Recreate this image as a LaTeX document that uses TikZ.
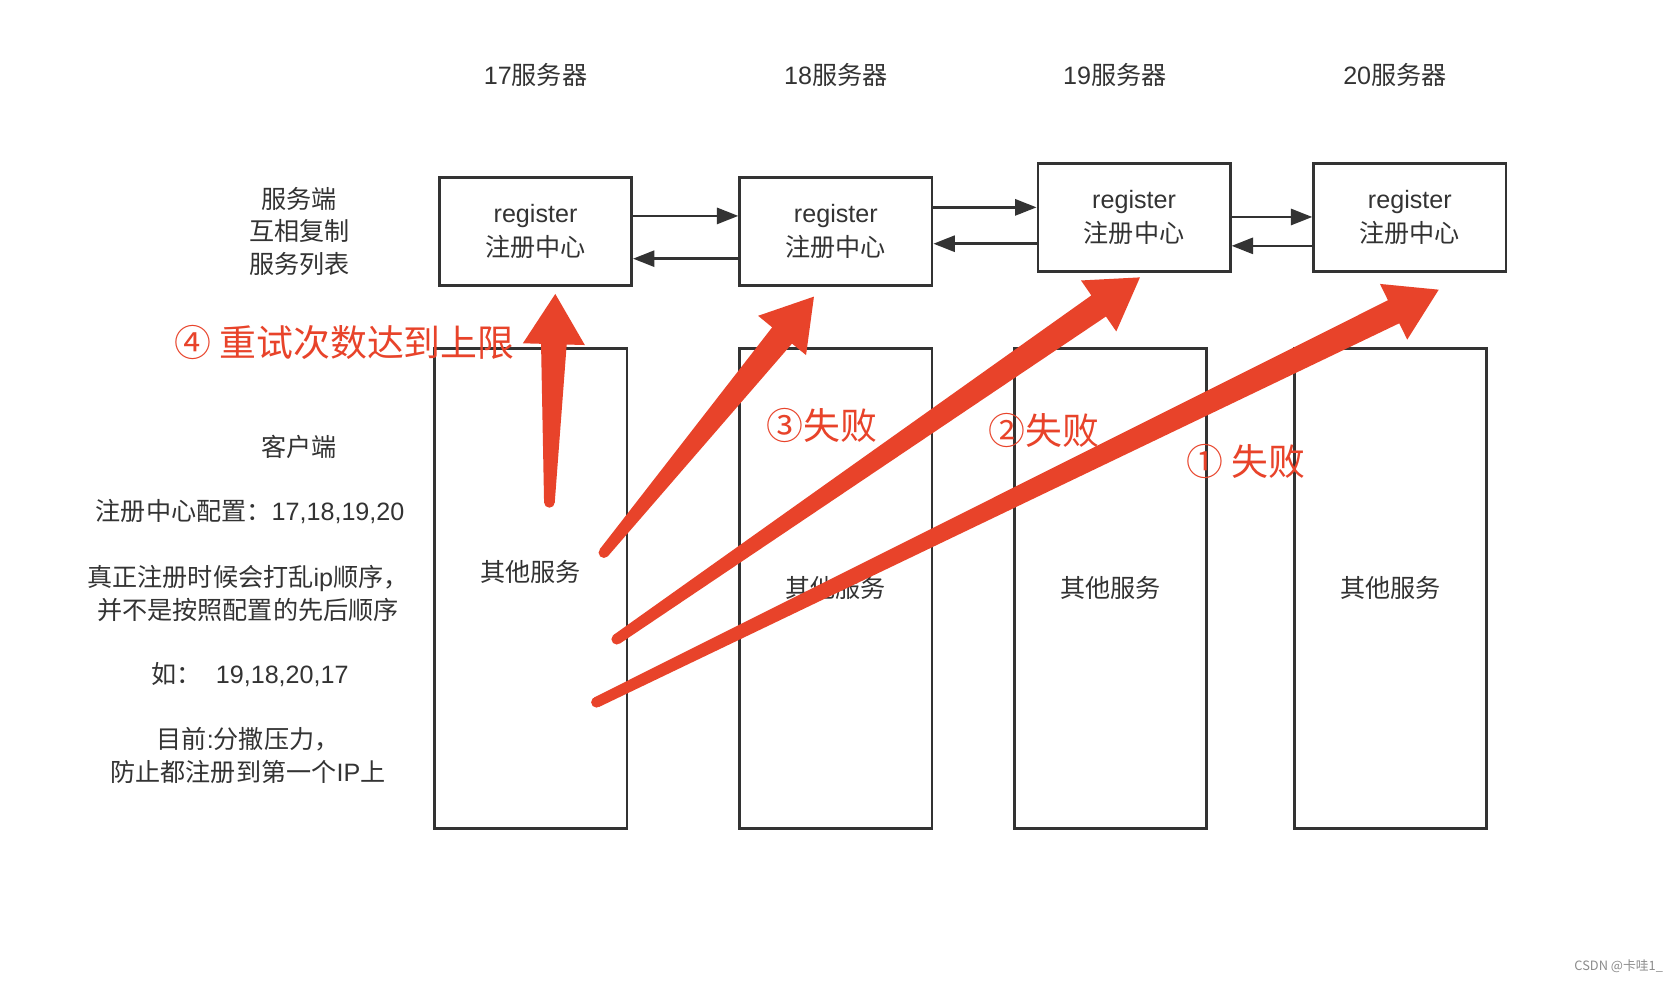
\documentclass[tikz,border=0pt]{standalone}
\usepackage{fontspec}
\setmainfont{Noto Sans CJK SC}
\newfontfamily\lat{Liberation Sans}
\usetikzlibrary{arrows.meta,calc}
\definecolor{ink}{HTML}{333333}
\definecolor{redA}{HTML}{E8432A}
\newcommand{\fatarrow}[6]{%
  \coordinate (#1b) at ($(#2)!#3!(#1)$);
  \fill[redA] ($(#1)!#6!90:(#2)$) -- ($(#1b)!#5!90:(#2)$) -- ($(#1b)!#4!90:(#2)$) -- (#2)
    -- ($(#1b)!#4!-90:(#2)$) -- ($(#1b)!#5!-90:(#2)$) -- ($(#1)!#6!-90:(#2)$) -- cycle;
  \fill[redA] (#1) circle (#6);
}
\newcommand{\latn}[1]{{\lat #1}}
\tikzset{
  txt/.style={text=ink, font=\fontsize{23.5}{30.5}\selectfont, align=center, inner sep=0pt},
  regbox/.style={draw=ink, line width=2.5pt, minimum width=180pt, minimum height=101pt, inner sep=0pt,
    text=ink, font=\fontsize{23.5}{31}\selectfont, align=center},
  colbox/.style={draw=ink, line width=2.5pt, minimum width=180pt, minimum height=449pt, inner sep=0pt,
    text=ink, font=\fontsize{23.5}{30}\selectfont, align=center},
  conn/.style={draw=ink, line width=2.5pt, -{Triangle[length=20pt,width=15pt]}},
  redtxt/.style={text=redA, font=\fontsize{34.5}{40}\selectfont, inner sep=0pt}
}
\begin{document}
\begin{tikzpicture}[x=1pt,y=-1pt]
\useasboundingbox (0,0) rectangle (1568,919);
\fill[white] (0,0) rectangle (1568,919);
% headers
\node[txt] (h17) at (501,70) {\latn{17}服务器};
\node[txt] (h18) at (782,70) {\latn{18}服务器};
\node[txt] (h19) at (1043,70) {\latn{19}服务器};
\node[txt] (h20) at (1305,70) {\latn{20}服务器};
% register boxes
\node[regbox] (b1) at (501,216.5) {\latn{register}\\注册中心};
\node[regbox] (b2) at (782,216.5) {\latn{register}\\注册中心};
\node[regbox] (b3) at (1061,203.5) {\latn{register}\\注册中心};
\node[regbox] (b4) at (1319,203.5) {\latn{register}\\注册中心};
% replication arrows
\draw[conn] ([yshift=14.5pt]b1.east) -- ([yshift=14.5pt]b2.west);
\draw[conn] ([yshift=-25.5pt]b2.west) -- ([yshift=-25.5pt]b1.east);
\draw[conn] ([yshift=22.5pt]b2.east) -- ([yshift=9.5pt]b3.west);
\draw[conn] ([yshift=-24.5pt]b3.west) -- ([yshift=-11.5pt]b2.east);
\draw[conn] ([yshift=0.5pt]b3.east) -- ([yshift=0.5pt]b4.west);
\draw[conn] ([yshift=-26.5pt]b4.west) -- ([yshift=-26.5pt]b3.east);
% left texts
\node[txt] (srv) at (280,216.5) {服务端\\互相复制\\服务列表};
\node[txt] (cli) at (280,418) {客户端};
\node[txt] (cfg) at (234,479) {注册中心配置：\latn{17,18,19,20}};
\node[txt] (shuf) at (232,555.5) {真正注册时候会打乱\latn{ip}顺序，\\ 并不是按照配置的先后顺序};
\node[txt] (eg) at (234,631) {如：\latn{\ \ 19,18,20,17}};
\node[txt] (goal) at (232,707) {目前\latn{:}分撒压力，\\防止都注册到第一个\latn{IP}上};
% client columns
\node[colbox] (c1) at (496.5,550.5) {};
\node[txt] (t1) at (496.5,535) {其他服务};
\node[colbox] (c2) at (782,550.5) {其他服务};
\node[colbox] (c3) at (1039,550.5) {其他服务};
\node[colbox] (c4) at (1301,550.5) {其他服务};
% red labels
\node[redtxt, anchor=west] (r4) at (163,320) {④ 重试次数达到上限};
\node[redtxt] (r3) at (769,398) {③失败};
\node[redtxt] (r2) at (977,403) {②失败};
\node[redtxt] (r1) at (1166,432) {① 失败};
% red arrows
\coordinate (ta) at (514,470);  \coordinate (pa) at (519.5,275);
\coordinate (tb) at (565,517);  \coordinate (pb) at (761.5,277.5);
\coordinate (tc) at (577,598);  \coordinate (pc) at (1066.5,259.5);
\coordinate (td) at (558,657);  \coordinate (pd) at (1346,271);
\fatarrow{ta}{pa}{47pt}{29pt}{12pt}{5pt}
\fatarrow{tb}{pb}{47pt}{29pt}{12pt}{5pt}
\fatarrow{tc}{pc}{47pt}{29pt}{12pt}{5pt}
\fatarrow{td}{pd}{47pt}{29pt}{12pt}{5pt}
% watermark
\node[text=black!45, font=\fontsize{12}{14}\selectfont, anchor=east, inner sep=0pt] (wm) at (1556,904) {CSDN @卡哇1\_};
\end{tikzpicture}
\end{document}
